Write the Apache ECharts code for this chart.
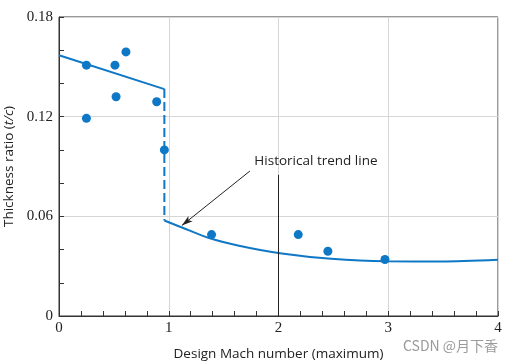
<!DOCTYPE html>
<html>
<head>
<meta charset="utf-8">
<script src="https://cdn.jsdelivr.net/npm/echarts@6/dist/echarts.min.js"></script>
<style>html,body{margin:0;padding:0;background:#fff}#c{width:518px;height:362px}</style>
</head>
<body>
<div id="c"></div>
<script>
// Scatter data (design Mach number, thickness ratio)
var pointMach = [0.25, 0.51, 0.61, 0.52, 0.25, 0.89, 0.96, 1.39, 2.18, 2.45, 2.97];
var pointRatio = [0.151, 0.151, 0.159, 0.132, 0.119, 0.129, 0.100, 0.049, 0.049, 0.039, 0.034];
// Subsonic trend segment
var subMach = [0, 0.96];
var subRatio = [0.157, 0.1366];
// Dashed jump at transonic
var jumpMach = [0.96, 0.96];
var jumpRatio = [0.1366, 0.0575];
// Supersonic trend curve
var supMach = [0.96, 1.12, 1.36, 1.64, 2.03, 2.48, 2.98, 3.48, 4.0];
var supRatio = [0.0575, 0.0533, 0.0471, 0.0423, 0.0376, 0.0344, 0.0329, 0.0328, 0.0338];
// Annotation
var noteText = 'Historical trend line';
var arrowFrom = [1.74, 0.0873];
var arrowTo = [1.12, 0.0545];
var noteAt = [1.78, 0.0915];
var xTicks = [0, 1, 2, 3, 4];
var yTicks = [0, 0.06, 0.12, 0.18];

function zip(a, b) { return a.map(function (v, i) { return [v, b[i]]; }); }

var blue = '#0f78c6';
var chart = echarts.init(document.getElementById('c'));
chart.setOption({
  animation: false,
  grid: { left: 59, right: 20, top: 17, bottom: 46, show: true, borderColor: '#333', borderWidth: 1,
    containLabel: false, outerBoundsMode: 'none' },
  xAxis: {
    type: 'value', min: xTicks[0], max: xTicks[xTicks.length - 1], interval: 1,
    name: 'Design Mach number (maximum)', nameLocation: 'middle', nameGap: 31,
    nameTextStyle: { fontFamily: 'Open Sans', fontSize: 13.5, color: '#222' },
    axisLine: { lineStyle: { color: '#333', width: 1 } },
    axisTick: { inside: true, length: 5, lineStyle: { color: '#333' } },
    minorTick: { show: true, splitNumber: 5, length: 5, lineStyle: { color: '#333' } },
    axisLabel: { fontFamily: 'Liberation Serif', fontSize: 15, color: '#222', margin: 5 },
    splitLine: { show: true, lineStyle: { color: '#d6d6d6', width: 1 } }
  },
  yAxis: {
    type: 'value', min: yTicks[0], max: yTicks[yTicks.length - 1], interval: 0.06,
    name: 'Thickness ratio ({i|t/c})', nameLocation: 'middle', nameGap: 39,
    nameTextStyle: { fontFamily: 'Open Sans', fontSize: 13.5, color: '#222',
      rich: { i: { fontFamily: 'Open Sans', fontSize: 13.5, fontStyle: 'italic', color: '#222' } } },
    axisLine: { show: true, lineStyle: { color: '#333', width: 1 } },
    axisTick: { inside: true, length: 5, lineStyle: { color: '#333' } },
    minorTick: { show: true, splitNumber: 3, length: 5, lineStyle: { color: '#333' } },
    axisLabel: { fontFamily: 'Liberation Serif', fontSize: 15, color: '#222', margin: 6,
      formatter: function (v) { return v === 0 ? '0' : v.toFixed(2); } },
    splitLine: { show: true, lineStyle: { color: '#d6d6d6', width: 1 } }
  },
  series: [
    { type: 'line', data: zip(subMach, subRatio), showSymbol: false, symbol: 'none',
      lineStyle: { color: blue, width: 2 }, z: 3 },
    { type: 'line', data: zip(jumpMach, jumpRatio), showSymbol: false, symbol: 'none',
      lineStyle: { color: blue, width: 2, type: [9, 4] }, z: 3 },
    { type: 'line', data: zip(supMach, supRatio), showSymbol: false, symbol: 'none',
      smooth: 0.3,
      lineStyle: { color: blue, width: 2 }, z: 3,
      markLine: {
        silent: true, animation: false,
        data: [
          [{ coord: arrowFrom, symbol: 'none' }, { coord: arrowTo, symbol: 'arrow', symbolSize: [5, 11] }],
          [{ coord: [2, 0], symbol: 'none' }, { coord: [2, 0.085], symbol: 'none' }]
        ],
        lineStyle: { color: '#222', width: 1, type: 'solid' },
        label: { show: false }
      }
    },
    { type: 'scatter', data: zip(pointMach, pointRatio), symbolSize: 9,
      itemStyle: { color: blue, opacity: 1 }, z: 4 }
  ]
});
var p = chart.convertToPixel({ gridIndex: 0 }, noteAt);
chart.setOption({
  graphic: [
    { type: 'text', left: p[0], top: p[1] - 10,
      style: { text: noteText, fontFamily: 'Open Sans', fontSize: 13.5, fill: '#222' } },
    { type: 'text', left: 403, top: 339,
      style: { text: 'CSDN @月下香', fontFamily: 'Noto Sans CJK SC', fontSize: 14, fill: '#9a9a9a' } }
  ]
});
</script>
</body>
</html>
